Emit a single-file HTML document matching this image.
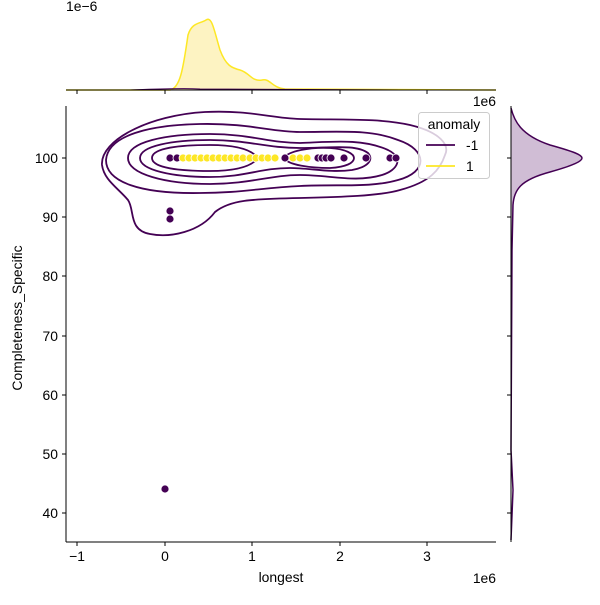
<!DOCTYPE html>
<html><head><style>body{margin:0;background:#fff}svg{font-family:"Liberation Sans","DejaVu Sans",sans-serif}</style></head><body>
<svg width="600" height="600" viewBox="0 0 600 600" xmlns="http://www.w3.org/2000/svg">
<!-- top marginal -->
<text x="66" y="11" font-size="13.9">1e−6</text>
<path d="M66,90 L170,90 C180,88 183,70 188,35 C192,22 200,24 206,20 C212,16 214,30 220,50 C226,66 232,68 240,70 C250,73 252,82 262,80 C270,78 272,88 285,89 L496,90 Z" fill="#fdf3c2" stroke="none"/>
<path d="M66,90 L170,90 C180,88 183,70 188,35 C192,22 200,24 206,20 C212,16 214,30 220,50 C226,66 232,68 240,70 C250,73 252,82 262,80 C270,78 272,88 285,89 L496,90" fill="none" stroke="#fde725" stroke-width="1.5"/>
<path d="M130,90 C160,89 180,88 200,89 L400,90" fill="none" stroke="#440154" stroke-width="1"/>
<line x1="66" y1="90" x2="496" y2="90" stroke="#000"/>
<g stroke="#000"><line x1="77" y1="90" x2="77" y2="94"/><line x1="165" y1="90" x2="165" y2="94"/><line x1="252" y1="90" x2="252" y2="94"/><line x1="340" y1="90" x2="340" y2="94"/><line x1="427" y1="90" x2="427" y2="94"/></g>
<!-- right marginal -->
<path d="M511,108 C514,120 520,135 550,145 C575,152 582,155 582,158 C582,161 575,165 550,172 C520,180 514,190 513,205 L512,250 L511,500 L512,520 L511,540 Z" fill="#d0bdd5"/>
<path d="M511,108 C514,120 520,135 550,145 C575,152 582,155 582,158 C582,161 575,165 550,172 C520,180 514,190 513,205 L512,250 L511,450 L513,490 L511,540" fill="none" stroke="#440154" stroke-width="1.5"/>
<line x1="511" y1="106" x2="511" y2="542" stroke="#000"/>
<g stroke="#000"><line x1="507" y1="158" x2="511" y2="158"/><line x1="507" y1="217" x2="511" y2="217"/><line x1="507" y1="276" x2="511" y2="276"/><line x1="507" y1="336" x2="511" y2="336"/><line x1="507" y1="395" x2="511" y2="395"/><line x1="507" y1="454" x2="511" y2="454"/><line x1="507" y1="513" x2="511" y2="513"/></g>
<!-- main axes -->
<g fill="none" stroke="#440154" stroke-width="1.8">
<path d="M102,165 C100,140 150,115 205,112 C250,110 270,118 300,119 C340,120 380,118 410,125 C440,132 450,145 445,155 C440,170 430,182 400,190 C380,196 340,197 300,198 C250,199 230,200 215,212 C200,232 170,238 150,234 C128,230 135,210 128,200 C118,188 104,180 102,165 Z"/>
<path d="M106,160 C108,135 150,125 200,124 C250,123 270,132 300,132 C340,132 370,129 398,140 C428,150 428,172 398,180 C370,188 340,184 300,186 C260,188 240,193 200,193 C140,194 106,182 106,160 Z"/>
<path d="M128,158 C128,142 165,134 210,134 C250,134 270,143 300,143 C330,142 362,138 388,150 C404,158 398,170 382,175 C355,183 330,175 300,175 C270,175 250,184 210,184 C165,184 128,174 128,158 Z"/>
<path d="M140,158 C140,146 172,140 210,140 C248,140 266,148 300,148 C330,148 356,144 368,153 C374,160 368,167 352,170 C330,173 310,168 290,168 C260,168 246,177 210,177 C172,177 140,170 140,158 Z"/>
<path d="M152,158 C152,148 180,145 210,145 C238,145 252,150 258,158 C252,166 238,171 210,171 C180,171 152,168 152,158 Z"/>
<path d="M284,158 C288,151 310,147 330,148 C346,149 354,154 354,158 C354,163 346,167 330,168 C310,168 288,165 284,158 Z"/>
</g>
<g fill="#440154" stroke="#fff" stroke-width="0.8">
<circle cx="170" cy="158" r="4"/><circle cx="177" cy="158" r="4"/><circle cx="285" cy="158" r="4"/><circle cx="318" cy="158" r="4"/><circle cx="322" cy="158" r="4"/><circle cx="326" cy="158" r="4"/><circle cx="331" cy="158" r="4"/><circle cx="344" cy="158" r="4"/><circle cx="366" cy="158" r="4"/><circle cx="390" cy="158" r="4"/><circle cx="396" cy="158" r="4"/>
<circle cx="170" cy="211" r="4"/><circle cx="170" cy="219" r="4"/><circle cx="165" cy="489" r="4"/>
</g>
<g fill="#fde725" stroke="#fff" stroke-width="0.8">
<circle cx="183" cy="158" r="4"/><circle cx="189" cy="158" r="4"/><circle cx="195" cy="158" r="4"/><circle cx="201" cy="158" r="4"/><circle cx="207" cy="158" r="4"/><circle cx="213" cy="158" r="4"/><circle cx="219" cy="158" r="4"/><circle cx="225" cy="158" r="4"/><circle cx="231" cy="158" r="4"/><circle cx="237" cy="158" r="4"/><circle cx="243" cy="158" r="4"/><circle cx="250" cy="158" r="4"/><circle cx="256" cy="158" r="4"/><circle cx="262" cy="158" r="4"/><circle cx="268" cy="158" r="4"/><circle cx="275" cy="158" r="4"/><circle cx="293" cy="158" r="4"/><circle cx="300" cy="158" r="4"/><circle cx="307" cy="158" r="4"/>
</g>
<line x1="66" y1="106" x2="66" y2="542" stroke="#000"/>
<line x1="66" y1="542" x2="496" y2="542" stroke="#000"/>
<g stroke="#000"><line x1="77" y1="542" x2="77" y2="546"/><line x1="165" y1="542" x2="165" y2="546"/><line x1="252" y1="542" x2="252" y2="546"/><line x1="340" y1="542" x2="340" y2="546"/><line x1="427" y1="542" x2="427" y2="546"/>
<line x1="62" y1="158" x2="66" y2="158"/><line x1="62" y1="217" x2="66" y2="217"/><line x1="62" y1="276" x2="66" y2="276"/><line x1="62" y1="336" x2="66" y2="336"/><line x1="62" y1="395" x2="66" y2="395"/><line x1="62" y1="454" x2="66" y2="454"/><line x1="62" y1="513" x2="66" y2="513"/></g>
<g font-size="13.9" text-anchor="middle"><text x="77" y="561">−1</text><text x="165" y="561">0</text><text x="252" y="561">1</text><text x="340" y="561">2</text><text x="427" y="561">3</text></g>
<text x="496" y="583" font-size="13.9" text-anchor="end">1e6</text>
<text x="496" y="106" font-size="13.9" text-anchor="end">1e6</text>
<text x="281" y="582" font-size="13.9" text-anchor="middle">longest</text>
<g font-size="13.9" text-anchor="end"><text x="58" y="163">100</text><text x="58" y="222">90</text><text x="58" y="281">80</text><text x="58" y="341">70</text><text x="58" y="400">60</text><text x="58" y="459">50</text><text x="58" y="518">40</text></g>
<text transform="translate(22,318) rotate(-90)" font-size="13.9" text-anchor="middle">Completeness_Specific</text>
<!-- legend -->
<rect x="418.5" y="112.5" width="71" height="66" rx="3" fill="#fff" fill-opacity="0.8" stroke="#ccc"/>
<text x="454" y="129" font-size="13.9" text-anchor="middle">anomaly</text>
<line x1="426" y1="145" x2="455" y2="145" stroke="#440154" stroke-width="1.8"/>
<text x="466" y="150" font-size="13.9">-1</text>
<line x1="426" y1="166" x2="455" y2="166" stroke="#fde725" stroke-width="1.8"/>
<text x="466" y="171" font-size="13.9">1</text>
</svg>
</body></html>
